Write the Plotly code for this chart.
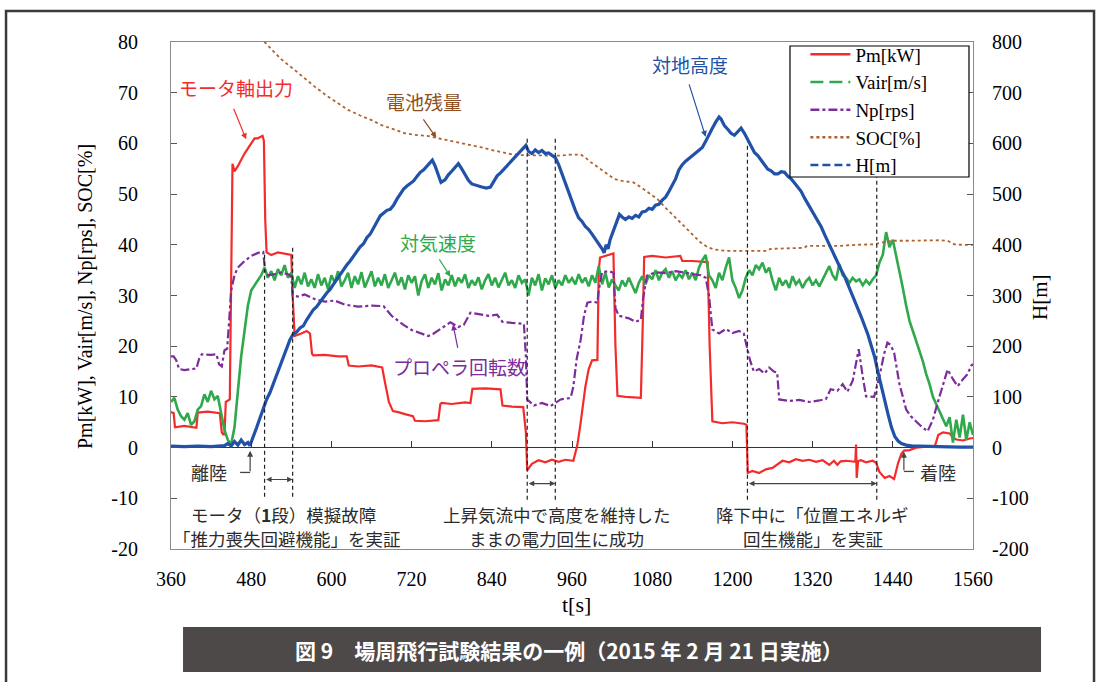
import plotly.graph_objects as go

# ---------------- data ----------------
pm_t = [360, 364, 366, 380, 398, 400, 415, 433, 436, 438, 440, 442, 448, 450, 452, 455, 460, 470, 480, 485, 490, 497, 499, 501, 503,
        510, 520, 530, 540, 542, 545, 555, 563, 568, 571, 573, 590, 610, 623, 626, 640, 660, 676, 680, 686, 692, 700, 710, 722, 725,
        740, 760, 763, 765, 780, 800, 808, 811, 830, 853, 856, 870, 887, 891, 893, 900, 910, 920, 930, 940, 950, 962, 968, 972, 976,
        980, 985, 990, 998, 1000, 1002, 1010, 1022, 1025, 1028, 1040, 1063, 1066, 1068, 1080, 1100, 1122, 1125, 1140, 1163, 1166,
        1170, 1185, 1200, 1217, 1221, 1223, 1230, 1240, 1250, 1260, 1268, 1275, 1285, 1295, 1305, 1315, 1325, 1335, 1345, 1352,
        1357, 1362, 1370, 1380, 1384, 1385, 1386, 1388, 1392, 1400, 1410, 1415, 1420, 1428, 1435, 1442, 1448, 1453, 1457, 1465,
        1475, 1490, 1503, 1508, 1515, 1525, 1530, 1535, 1545, 1555, 1560]
pm_v = [7.0, 6.8, 4.0, 4.3, 3.9, 6.9, 7.1, 6.8, 3.0, 2.6, 2.6, 9.0, 9.5, 30, 56, 54.5, 55.5, 58, 60, 61, 61, 61.5, 60.5, 45, 38.5,
        38, 38.5, 38.2, 38, 30, 22, 22.5, 23, 22.5, 18.5, 18.2, 18.3, 18, 18, 16.2, 16, 16.2, 15.8, 13, 9, 7.2, 7.0, 6.6, 6.2, 5.3,
        5.2, 5.4, 8.6, 8.8, 8.6, 8.9, 8.8, 11.6, 11.7, 11.5, 8.3, 8.1, 8.0, 3, -4.5, -3.2, -2.5, -2.9, -2.4, -2.8, -2.4, -2.6, 0.5, 4,
        8, 12, 15.5, 17.2, 17.3, 35, 37.5, 37.8, 38.3, 20, 10.2, 10, 9.8, 25, 37.6, 37.8, 37.5, 37.8, 36.8, 36.8, 36.6, 20,
        5.2, 4.8, 5.0, 4.7, 4.5, -5.0, -4.6, -5.0, -4.3, -4.0, -3.2, -2.6, -2.9, -2.3, -2.6, -2.4, -2.8, -2.5, -3.4, -2.6,
        -3.4, -2.7, -2.6, -2.8, -2.8, 0.6, -6.0, -2.7, -2.5, -2.9, -2.6, -3.0, -4.8, -6.0, -5.6, -6.2, -3.0, -1.2, -0.6, -0.5,
        0.0, 0.2, 0.3, 2.5, 3.0, 2.8, 2.0, 1.6, 1.4, 1.8, 1.9]

vair_t = list(range(360, 1561, 5))
vair_v = [9.0, 9.8, 7.5, 6.2, 5.5, 6.8, 4.5, 5.2, 7.5, 8.2, 10.5, 9.0, 11.2, 9.5, 10.2, 7.0, 3.5, 1.5,
          0.6, 4.0, 11.0, 18.0, 23.0, 28.0, 31.0, 32.0, 33.0, 34.0, 35.5, 33.5, 34.8, 33.0, 35.2, 34.0, 36.0, 33.5, 34.5,
          31.5, 33.8, 32.2, 34.5, 31.8, 33.2, 31.5, 34.2, 32.0, 33.5, 31.2, 34.0, 32.5, 34.8, 31.8, 33.0, 34.5, 31.5, 33.8,
          32.2, 34.6, 31.6, 33.2, 34.8, 31.8, 33.5, 32.0, 34.2, 31.5, 33.0, 34.5, 32.0, 33.6, 31.2, 34.0, 32.5, 33.8, 30.0,
          32.8, 34.2, 31.5, 33.5, 32.2, 34.4, 31.0, 33.2, 32.0, 34.0, 31.8, 33.5, 32.5, 34.2, 31.5, 33.0, 32.0, 33.6, 31.2,
          33.0, 34.2, 32.0, 33.5, 31.6, 33.2, 34.5, 32.0, 33.0, 31.5, 34.0, 32.5, 33.2, 30.0, 33.5, 32.0, 34.2, 31.0, 33.4,
          32.2, 34.0, 31.5, 33.0, 32.0, 34.0, 32.5, 33.4, 32.2, 34.2, 32.5, 33.5, 31.8, 34.0, 32.5, 35.8, 32.2, 34.5, 31.6,
          33.2, 32.0, 31.0, 33.0, 31.8, 33.5, 32.0, 30.5, 32.5, 33.8, 32.2, 34.0, 33.2, 35.0, 33.0, 34.5, 35.2, 33.5, 34.8,
          33.0, 34.2, 33.5, 35.0, 33.2, 34.5, 33.0, 35.5, 37.0, 38.0, 34.0, 33.0, 31.5, 34.5, 33.0, 35.5, 37.5, 33.0, 31.5,
          29.5, 31.0, 33.5, 35.0, 34.0, 36.0, 35.2, 36.5, 34.5, 35.5, 33.0, 31.0, 33.5, 32.0, 33.0, 31.5, 33.8, 32.2, 33.0,
          31.5, 32.8, 33.5, 32.0, 33.0, 31.8, 33.2, 34.5, 35.8, 34.0, 33.0, 36.2, 34.0, 33.5, 32.5, 33.5, 32.8, 33.2, 32.0,
          33.0, 32.2, 33.2, 34.0, 36.5, 38.0, 42.5, 39.5, 41.0, 38.0, 34.5, 31.5, 28.0, 25.0, 23.0, 21.0, 19.0, 17.0, 14.5,
          12.5, 10.0, 8.5, 7.0, 5.5, 4.2, 6.0, 1.0, 5.5, 2.0, 6.5, 1.5, 5.0, 2.5]

np_t = [360, 364, 368, 372, 380, 390, 398, 402, 406, 420, 428, 432, 436, 440, 444, 447, 450, 455, 460, 470, 480, 490, 498, 501,
        505, 515, 525, 535, 540, 542, 550, 560, 575, 590, 605, 620, 640, 660, 678, 690, 708, 720, 733, 745, 752, 765, 778, 790,
        798, 808, 820, 835, 848, 856, 870, 888, 891, 893, 903, 915, 928, 943, 958, 962, 967, 973, 978, 983, 990, 998, 1000,
        1005, 1015, 1022, 1025, 1030, 1045, 1055, 1063, 1066, 1072, 1085, 1100, 1115, 1130, 1140, 1153, 1160, 1165, 1170,
        1180, 1190, 1200, 1210, 1217, 1222, 1226, 1232, 1240, 1248, 1255, 1262, 1267, 1270, 1285, 1300, 1315, 1330, 1340,
        1347, 1357, 1365, 1372, 1380, 1389, 1395, 1400, 1412, 1420, 1427, 1432, 1437, 1442, 1450, 1460, 1467, 1480, 1492,
        1500, 1507, 1515, 1522, 1530, 1537, 1545, 1552, 1557, 1560]
np_v = [18.0, 18.0, 17.2, 15.5, 15.3, 15.4, 15.6, 17.5, 18.4, 18.3, 18.4, 16.4, 16.0, 19.2, 19.5, 25, 31, 34.0, 35.5, 36.8,
        37.8, 38.4, 38.6, 34.5, 34.0, 34.2, 34.5, 34.2, 33.8, 30.0, 29.8, 30.2, 29.3, 28.8, 29.0, 28.2, 27.8, 28.0, 27.9, 26.0,
        24.2, 23.2, 22.6, 22.0, 22.4, 23.6, 24.7, 23.8, 24.2, 26.6, 26.3, 26.0, 26.2, 24.8, 24.6, 24.4, 18, 9.5, 8.3, 8.8, 8.2,
        9.5, 9.8, 12, 17.5, 21.3, 26, 28.6, 28.8, 28.6, 31, 34.6, 34.8, 34.5, 27.5, 26.0, 25.5, 24.8, 25.2, 29, 33.9, 34.6,
        34.4, 34.8, 34.5, 34.2, 34.0, 33.5, 30, 23.3, 22.5, 23.4, 22.6, 23.0, 22.5, 19.5, 17.4, 15.0, 15.5, 14.6, 15.8, 15.0,
        14.8, 9.5, 9.2, 9.4, 9.0, 9.3, 9.6, 11.5, 11.2, 12.5, 11.0, 13.2, 19.4, 14, 10.1, 10.0, 14, 18.5, 20.7, 20.2, 18.7,
        12.5, 7.5, 6.2, 4.5, 3.2, 5.5, 8.8, 12.5, 15.4, 13.5, 12.1, 13.5, 14.5, 16.1, 16.5]

soc_t = [480, 498, 510, 525, 543, 560, 575, 593, 610, 625, 643, 660, 675, 693, 710, 725, 743, 760, 775, 793, 810, 825, 843,
         855, 868, 885, 905, 925, 943, 958, 973, 980, 988, 1000, 1012, 1023, 1035, 1052, 1065, 1075, 1088, 1100, 1112, 1122,
         1132, 1142, 1152, 1162, 1172, 1190, 1212, 1232, 1252, 1257, 1275, 1290, 1307, 1312, 1340, 1362, 1385, 1412, 1425,
         1440, 1462, 1490, 1510, 1522, 1532, 1545, 1560]
soc_v = [82.5, 80.3, 78.6, 76.6, 74.7, 72.8, 71.2, 69.4, 68.0, 66.6, 65.5, 64.6, 63.6, 62.8, 62.0, 61.7, 61.5, 61.0, 60.6,
         60.2, 59.7, 59.2, 58.6, 58.2, 57.9, 57.7, 57.6, 57.6, 57.6, 57.8, 57.8, 57.2, 56.3, 55.2, 54.0, 53.0, 52.6, 52.3,
         51.2, 50.2, 49.0, 47.3, 45.7, 44.3, 43.1, 41.8, 40.5, 39.6, 39.1, 38.8, 38.8, 38.8, 38.8, 39.2, 39.3, 39.4, 39.4,
         39.8, 39.8, 39.8, 40.0, 40.1, 40.5, 40.8, 40.8, 40.9, 40.9, 40.8, 40.1, 40.0, 40.0]

h_t = [360, 380, 400, 420, 440, 445, 450, 455, 460, 465, 470, 475, 478, 483, 488, 493, 498, 503, 508, 513, 518, 523, 528, 533,
       538, 543, 548, 553, 558, 563, 568, 573, 578, 583, 588, 593, 598, 603, 608, 613, 618, 623, 628, 633, 638, 643, 648, 653,
       658, 663, 668, 673, 678, 683, 688, 693, 698, 703, 708, 713, 718, 723, 728, 733, 738, 743, 748, 751, 755, 760, 764, 770,
       775, 780, 785, 790, 795, 800, 805, 810, 818, 825, 832, 838, 843, 848, 853, 858, 863, 868, 873, 878, 883, 888, 891, 895,
       900, 905, 910, 915, 920, 925, 930, 935, 940, 945, 950, 955, 960, 965, 970, 975, 980, 985, 990, 995, 1000, 1005, 1008,
       1011, 1014, 1017, 1022, 1027, 1031, 1035, 1040, 1045, 1050, 1055, 1060, 1065, 1070, 1075, 1080, 1085, 1090, 1095,
       1100, 1105, 1110, 1115, 1120, 1125, 1130, 1135, 1140, 1145, 1150, 1155, 1160, 1165, 1170, 1175, 1180, 1183, 1188,
       1193, 1198, 1203, 1208, 1213, 1218, 1223, 1228, 1233, 1238, 1243, 1248, 1253, 1258, 1263, 1268, 1273, 1278, 1283,
       1288, 1293, 1298, 1303, 1308, 1313, 1318, 1323, 1328, 1333, 1338, 1343, 1348, 1353, 1358, 1363, 1368, 1373, 1378,
       1383, 1388, 1393, 1398, 1403, 1408, 1413, 1418, 1423, 1428, 1433, 1438, 1443, 1448, 1453, 1460, 1470, 1480, 1500,
       1520, 1540, 1560]
h_v = [3, 2, 3, 2, 4, 8, 3, 12, 5, 15, 6, 10, 4, 20, 39, 58, 78, 95, 108, 125, 142, 161, 178, 196, 213, 224, 228, 236, 240,
       252, 262, 272, 278, 286, 296, 305, 312, 322, 332, 340, 350, 360, 368, 378, 386, 396, 402, 414, 421, 432, 445, 457, 462,
       468, 470, 478, 490, 500, 510, 516, 522, 526, 535, 543, 548, 556, 562, 567, 556, 535, 523, 528, 538, 545, 553, 560, 550,
       538, 527, 520, 516, 514, 512, 514, 525, 536, 542, 549, 556, 562, 569, 576, 584, 592, 596, 584, 580, 587, 582, 586, 580,
       581, 576, 572, 558, 540, 520, 500, 485, 468, 453, 446, 436, 430, 421, 412, 402, 392, 384, 400, 392, 410, 428, 445, 460,
       455, 450, 455, 452, 458, 455, 465, 466, 472, 470, 478, 480, 488, 494, 505, 518, 530, 548, 558, 565, 570, 576, 580, 586,
       592, 604, 618, 630, 642, 652, 648, 635, 628, 620, 616, 622, 630, 620, 608, 595, 582, 576, 566, 558, 549, 546, 540, 540,
       544, 543, 535, 530, 522, 514, 505, 492, 481, 468, 459, 447, 435, 420, 404, 392, 378, 363, 350, 337, 320, 305, 288, 273,
       257, 240, 222, 200, 178, 148, 118, 92, 65, 40, 22, 13, 8, 5, 3, 3, 2, 2, 1, 1]

x_ticks = [360, 480, 600, 720, 840, 960, 1080, 1200, 1320, 1440, 1560]
y_ticks = [-20, -10, 0, 10, 20, 30, 40, 50, 60, 70, 80]
y2_ticks = [-200, -100, 0, 100, 200, 300, 400, 500, 600, 700, 800]
series_names = ["Pm[kW]", "Vair[m/s]", "Np[rps]", "SOC[%]", "H[m]"]
event_times = [500, 542, 893, 935, 1222.5, 1416]

# ---------------- styling ----------------
C_PM, C_VA, C_NP, C_SOC, C_H = "#f42b2b", "#30a84c", "#7d2c9c", "#b0622c", "#2152a8"
SERIF = "Liberation Serif, Times New Roman, serif"
JP = "Noto Sans CJK JP, sans-serif"

fig = go.Figure()

# legend-only entries (styles as in the reference legend)
leg_styles = [(C_PM, "solid"), (C_VA, "13px,6px"), (C_NP, "dashdot"), (C_SOC, "dot"), (C_H, "8px,4px")]
for name, (col, dash) in zip(series_names, leg_styles):
    fig.add_trace(go.Scatter(x=[None], y=[None], mode="lines", name=name,
                             line=dict(color=col, dash=dash, width=2.5)))

fig.add_trace(go.Scatter(x=pm_t, y=pm_v, mode="lines", line=dict(color=C_PM, width=2.2), showlegend=False))
fig.add_trace(go.Scatter(x=vair_t, y=vair_v, mode="lines", line=dict(color=C_VA, width=2.6), showlegend=False))
fig.add_trace(go.Scatter(x=np_t, y=np_v, mode="lines", line=dict(color=C_NP, width=2.2, dash="dashdot"), showlegend=False))
fig.add_trace(go.Scatter(x=soc_t, y=soc_v, mode="lines", line=dict(color=C_SOC, width=1.8, dash="dot"), showlegend=False))
fig.add_trace(go.Scatter(x=h_t, y=h_v, mode="lines", line=dict(color=C_H, width=3.2), yaxis="y2", showlegend=False))
# carrier for the zero-line tick axis
fig.add_trace(go.Scatter(x=[360, 1560], y=[None, None], xaxis="x2", yaxis="y", showlegend=False, hoverinfo="skip"))

# ---------------- shapes: event lines, frames ----------------
shapes = []
ev_tops = [38.4, 39.4, 61.4, 61.4, 60.2, 53.8]
ev_bots = [-9.7, -9.7, -10.3, -10.3, -10.3, -10.3]
for t, top, bot in zip(event_times, ev_tops, ev_bots):
    shapes.append(dict(type="line", xref="x", yref="y", x0=t, x1=t, y0=bot, y1=top,
                       line=dict(color="#222", width=1.2, dash="4px,3px")))
# small horizontal hooks of the take-off / landing pointers
shapes.append(dict(type="line", xref="x", yref="y", x0=463.4, x1=478.4, y0=-4.9, y1=-4.9, line=dict(color="#444", width=1.3)))
shapes.append(dict(type="line", xref="x", yref="y", x0=1456.6, x1=1471.6, y0=-4.7, y1=-4.7, line=dict(color="#444", width=1.3)))
# legend box
shapes.append(dict(type="rect", xref="paper", yref="paper", x0=0.7718, x1=0.995, y0=0.7337, y1=0.9921,
                   line=dict(color="black", width=1.2), fillcolor="white", layer="above"))
# caption bar
shapes.append(dict(type="rect", xref="paper", yref="paper", x0=0.015, x1=1.0848, y0=-0.2426, y1=-0.1538,
                   line=dict(width=0), fillcolor="#4e4949", layer="above"))
# outer figure frame
shapes.append(dict(type="rect", xref="paper", yref="paper", x0=-0.2057, x1=1.1509, y0=-0.35, y1=1.0611,
                   line=dict(color="#3a3a3a", width=2.5), fillcolor="rgba(0,0,0,0)"))

# ---------------- annotations ----------------
ann = []
def label(text, x, y, color, size=19, xref="x", yref="y", **kw):
    ann.append(dict(text=text, x=x, y=y, xref=xref, yref=yref, showarrow=False,
                    xanchor="center", yanchor="middle", borderpad=0,
                    font=dict(family=JP, size=size, color=color), **kw))

def arrow(x, y, ax, ay, color, width=1.2, head=2, side="end"):
    ann.append(dict(text="", x=x, y=y, ax=ax, ay=ay, xref="x", yref="y", showarrow=True,
                    arrowhead=head, arrowsize=1, arrowwidth=width, arrowcolor=color, arrowside=side,
                    startarrowhead=head, startarrowsize=1))

label("モータ軸出力", 457.4, 71.0, C_PM)
arrow(472.4, 60.8, -13, -32, C_PM)
label("電池残量", 739, 68.2, "#8f4f22")
arrow(757, 61.1, -14, -20, "#8f4f22")
label("対地高度", 1136, 75.5, C_H)
arrow(1160, 61.3, -17, -54, C_H)
label("対気速度", 759, 40.4, C_VA)
arrow(778, 33.7, -12, -19, C_VA)
label("プロペラ回転数", 791.5, 16.0, C_NP)
arrow(782, 24.3, 5, 25, C_NP)

label("離陸", 417, -4.9, "#333", size=18)
arrow(478.4, -0.6, 0, 22, "#444")
label("着陸", 1507.6, -4.9, "#333", size=18)
arrow(1456.6, -0.8, 0, 20, "#444")

# double arrows between event lines
for (a, b, yv) in [(500, 542, -6.3), (893, 935, -7.1), (1222.5, 1416, -7.1)]:
    ann.append(dict(text="", x=b, y=yv, ax=a, ay=yv, xref="x", yref="y", axref="x", ayref="y",
                    showarrow=True, arrowhead=2, startarrowhead=2, arrowside="end+start",
                    arrowsize=1, startarrowsize=1, arrowwidth=1.1, arrowcolor="#444"))

# explanation blocks (one annotation per line)
label("モータ（<b>1</b>段）模擬故障", 529, -13.1, "#2b2b2b", size=17.5)
label("「推力喪失回避機能」を実証", 534, -18.0, "#2b2b2b", size=17.5)
label("上昇気流中で高度を維持した", 937, -13.1, "#2b2b2b", size=17.5)
label("ままの電力回生に成功", 937, -18.0, "#2b2b2b", size=17.5)
label("降下中に「位置エネルギ", 1320, -13.1, "#2b2b2b", size=17.5)
label("回生機能」を実証", 1320, -18.0, "#2b2b2b", size=17.5)

# axis titles
def ptext(text, x, y, size, family=SERIF, color="black", angle=0):
    ann.append(dict(text=text, x=x, y=y, xref="paper", yref="paper", showarrow=False,
                    xanchor="center", yanchor="middle", textangle=angle,
                    font=dict(family=family, size=size, color=color)))

ptext("Pm[kW], Vair[m/s], Np[rps], SOC[%]", -0.1072, 0.497, 20, angle=-90)
ptext("H[m]", 1.0835, 0.497, 21, angle=-90)
ptext("t[s]", 0.505, -0.109, 22)
ptext("<b>図 9　場周飛行試験結果の一例（2015 年 2 月 21 日実施）</b>", 0.4963, -0.1992, 21, family=JP, color="white")

fig.update_layout(
    width=1101, height=682,
    margin=dict(l=171, r=128, t=42, b=133),
    paper_bgcolor="white", plot_bgcolor="white",
    showlegend=True,
    legend=dict(x=0.791, y=1.013, xanchor="left", yanchor="top", bgcolor="rgba(0,0,0,0)",
                borderwidth=0, font=dict(family=SERIF, size=19, color="black"),
                itemwidth=40, tracegroupgap=0),
    xaxis=dict(range=[360, 1560], tickvals=x_ticks, ticks="", showline=True, mirror=True,
               linecolor="#8a8a8a", linewidth=1.2, showgrid=False, zeroline=False,
               tickfont=dict(family=SERIF, size=20, color="black"), ticklabelstandoff=12),
    xaxis2=dict(range=[360, 1560], overlaying="x", anchor="free", position=0.2, tickvals=x_ticks,
                ticks="inside", ticklen=7, tickcolor="#333", tickwidth=1.2, showticklabels=False,
                showline=False, showgrid=False, zeroline=False),
    yaxis=dict(range=[-20, 80], tickvals=y_ticks, ticktext=[str(v) for v in y_ticks],
               ticks="inside", ticklen=6, tickcolor="#555",
               showline=True, mirror=True, linecolor="#8a8a8a", linewidth=1.2, showgrid=False,
               zeroline=True, zerolinecolor="#333", zerolinewidth=1.3,
               tickfont=dict(family=SERIF, size=20, color="black"), ticklabelstandoff=28),
    yaxis2=dict(range=[-200, 800], tickvals=y2_ticks, ticktext=[str(v) for v in y2_ticks],
                overlaying="y", side="right", ticks="inside", ticklen=6,
                tickcolor="#555", showline=False, showgrid=False, zeroline=False,
                tickfont=dict(family=SERIF, size=20, color="black"), ticklabelstandoff=18),
    shapes=shapes,
    annotations=ann,
)

fig.write_html("out.html", config={"displayModeBar": False},
               post_script="document.body.style.margin='0px';document.body.style.overflow='hidden';")
